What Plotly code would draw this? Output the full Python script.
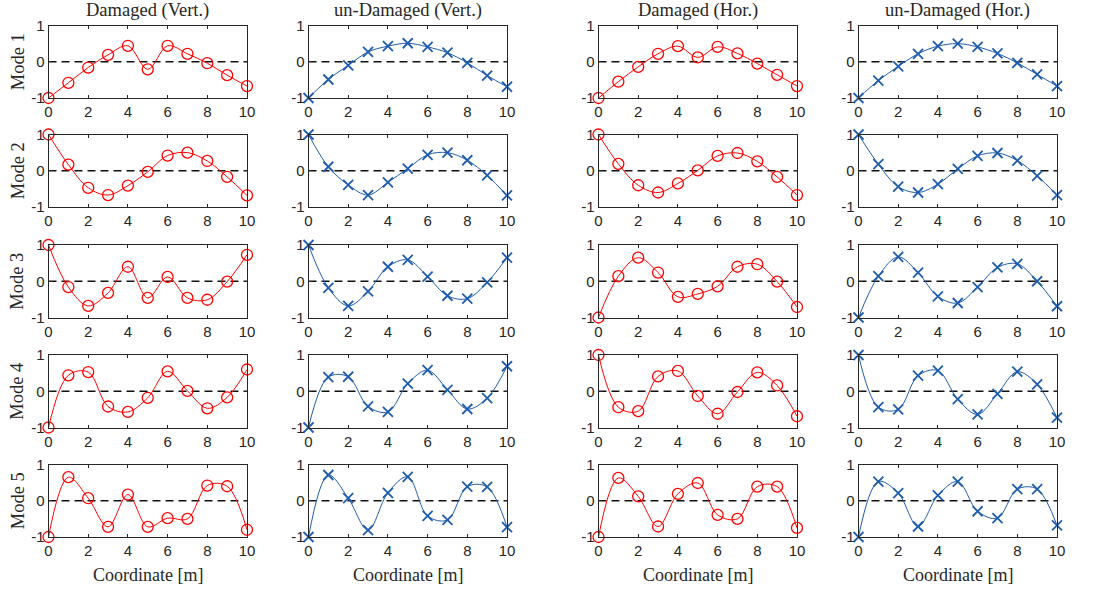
import plotly.graph_objects as go

W, H = 1100, 589

coord = [0, 1, 2, 3, 4, 5, 6, 7, 8, 9, 10]

col_titles = ["Damaged (Vert.)", "un-Damaged (Vert.)", "Damaged (Hor.)", "un-Damaged (Hor.)"]
row_titles = ["Mode 1", "Mode 2", "Mode 3", "Mode 4", "Mode 5"]
x_title = "Coordinate [m]"
x_ticks = [0, 2, 4, 6, 8, 10]
x_ticktext = ["0", "2", "4", "6", "8", "10"]
y_ticks = [-1, 0, 1]
y_ticktext = ["-1", "0", "1"]

# Damaged (Vert.)
dv_m1 = [-1, -0.58, -0.16, 0.19, 0.44, -0.21, 0.44, 0.22, -0.04, -0.37, -0.67]
dv_m2 = [1, 0.17, -0.47, -0.67, -0.41, -0.03, 0.42, 0.50, 0.27, -0.17, -0.68]
dv_m3 = [1, -0.16, -0.68, -0.32, 0.40, -0.46, 0.12, -0.46, -0.51, -0.01, 0.73]
dv_m4 = [-1, 0.44, 0.53, -0.42, -0.57, -0.18, 0.55, 0.01, -0.47, -0.17, 0.60]
dv_m5 = [-1, 0.65, 0.07, -0.72, 0.17, -0.72, -0.48, -0.50, 0.42, 0.40, -0.80]

# un-Damaged (Vert.)
uv_m1 = [-1, -0.49, -0.10, 0.27, 0.43, 0.51, 0.41, 0.25, -0.03, -0.38, -0.69]
uv_m2 = [1, 0.11, -0.39, -0.67, -0.32, 0.06, 0.44, 0.50, 0.29, -0.13, -0.68]
uv_m3 = [1, -0.18, -0.68, -0.28, 0.40, 0.59, 0.13, -0.40, -0.48, -0.03, 0.65]
uv_m4 = [-1, 0.39, 0.40, -0.42, -0.57, 0.21, 0.58, 0.04, -0.49, -0.19, 0.69]
uv_m5 = [-1, 0.71, 0.07, -0.81, 0.22, 0.66, -0.42, -0.53, 0.39, 0.38, -0.73]

# Damaged (Hor.)
dh_m1 = [-1, -0.55, -0.14, 0.22, 0.43, 0.12, 0.41, 0.23, -0.05, -0.36, -0.67]
dh_m2 = [1, 0.19, -0.40, -0.60, -0.35, 0.01, 0.41, 0.49, 0.26, -0.17, -0.67]
dh_m3 = [-1, 0.14, 0.65, 0.24, -0.43, -0.35, -0.14, 0.40, 0.47, -0.01, -0.71]
dh_m4 = [1, -0.44, -0.55, 0.41, 0.56, -0.13, -0.62, -0.02, 0.52, 0.16, -0.69]
dh_m5 = [-1, 0.63, 0.12, -0.71, 0.19, 0.49, -0.39, -0.50, 0.39, 0.39, -0.75]

# un-Damaged (Hor.)
uh_m1 = [-1, -0.52, -0.13, 0.22, 0.43, 0.50, 0.41, 0.23, -0.03, -0.35, -0.67]
uh_m2 = [1, 0.18, -0.44, -0.60, -0.37, 0.05, 0.41, 0.49, 0.28, -0.14, -0.67]
uh_m3 = [-1, 0.14, 0.67, 0.24, -0.42, -0.60, -0.16, 0.38, 0.48, 0.00, -0.69]
uh_m4 = [1, -0.44, -0.50, 0.43, 0.57, -0.22, -0.64, -0.07, 0.54, 0.19, -0.73]
uh_m5 = [-1, 0.53, 0.21, -0.71, 0.15, 0.53, -0.29, -0.48, 0.32, 0.32, -0.68]

columns = [
    [dv_m1, dv_m2, dv_m3, dv_m4, dv_m5],
    [uv_m1, uv_m2, uv_m3, uv_m4, uv_m5],
    [dh_m1, dh_m2, dh_m3, dh_m4, dh_m5],
    [uh_m1, uh_m2, uh_m3, uh_m4, uh_m5],
]

RED = "#ff0000"
BLUE = "#1f5cab"
AXC = "#262626"
SERIF = "Liberation Serif"
SANS = "Liberation Sans"

col_px = [(48.5, 247.0), (308.5, 507.0), (598.5, 797.0), (858.5, 1057.0)]
row_top = [25.5, 134.5, 245.0, 355.0, 464.5]
row_h = 72.5

fig = go.Figure()
layout = dict(
    width=W, height=H,
    margin=dict(l=0, r=0, t=0, b=0, autoexpand=False),
    paper_bgcolor="white", plot_bgcolor="white",
    showlegend=False,
    annotations=[],
)

idx = 0
for c in range(4):
    for r in range(5):
        idx += 1
        xa = "x" if idx == 1 else f"x{idx}"
        ya = "y" if idx == 1 else f"y{idx}"
        xkey = "xaxis" if idx == 1 else f"xaxis{idx}"
        ykey = "yaxis" if idx == 1 else f"yaxis{idx}"
        damaged = (c % 2 == 0)
        color = RED if damaged else BLUE
        # zero dashed line
        fig.add_trace(go.Scatter(
            x=[coord[0], coord[-1]], y=[0, 0], mode="lines",
            line=dict(color="#111111", width=1.3, dash="8px,5px"),
            xaxis=xa, yaxis=ya, hoverinfo="skip"))
        fig.add_trace(go.Scatter(
            x=coord, y=columns[c][r], mode="lines+markers",
            line=dict(color=color, width=1, shape="spline", smoothing=1.0),
            marker=dict(
                symbol="circle-open" if damaged else "x-thin-open",
                size=11 if damaged else 10,
                color=color,
                line=dict(color=color, width=1.3 if damaged else 1.8)),
            cliponaxis=False,
            xaxis=xa, yaxis=ya))
        x0, x1 = col_px[c]
        yt = row_top[r]
        yb = yt + row_h
        common = dict(
            tickmode="array",
            ticks="inside", ticklen=3, tickcolor=AXC, tickwidth=1,
            showline=True, linecolor=AXC, linewidth=1, mirror="allticks",
            showgrid=False, zeroline=False, automargin=False,
            tickfont=dict(family=SANS, size=15, color=AXC),
        )
        layout[xkey] = dict(
            domain=[x0 / W, x1 / W], anchor=ya, range=[0, 10],
            tickvals=x_ticks, ticktext=x_ticktext, **common)
        layout[ykey] = dict(
            domain=[1 - yb / H, 1 - yt / H], anchor=xa, range=[-1, 1],
            tickvals=y_ticks, ticktext=y_ticktext, **common)

# column titles
for c in range(4):
    x0, x1 = col_px[c]
    layout["annotations"].append(dict(
        text=col_titles[c], xref="paper", yref="paper",
        x=(x0 + x1) / 2 / W, y=1 - 11 / H, xanchor="center", yanchor="middle",
        showarrow=False, font=dict(family=SERIF, size=18.5, color=AXC)))
    layout["annotations"].append(dict(
        text=x_title, xref="paper", yref="paper",
        x=(x0 + x1) / 2 / W, y=1 - 575 / H, xanchor="center", yanchor="middle",
        showarrow=False, font=dict(family=SERIF, size=18, color=AXC)))

# row titles
for r in range(5):
    yc = row_top[r] + row_h / 2
    layout["annotations"].append(dict(
        text=row_titles[r], xref="paper", yref="paper",
        x=17.5 / W, y=1 - yc / H, xanchor="center", yanchor="middle",
        textangle=-90, showarrow=False,
        font=dict(family=SERIF, size=18.5, color=AXC)))

fig.update_layout(**layout)
fig.write_html(
    "out.html",
    config={"displayModeBar": False},
    post_script="document.body.style.margin='0';document.body.style.overflow='hidden';",
)
